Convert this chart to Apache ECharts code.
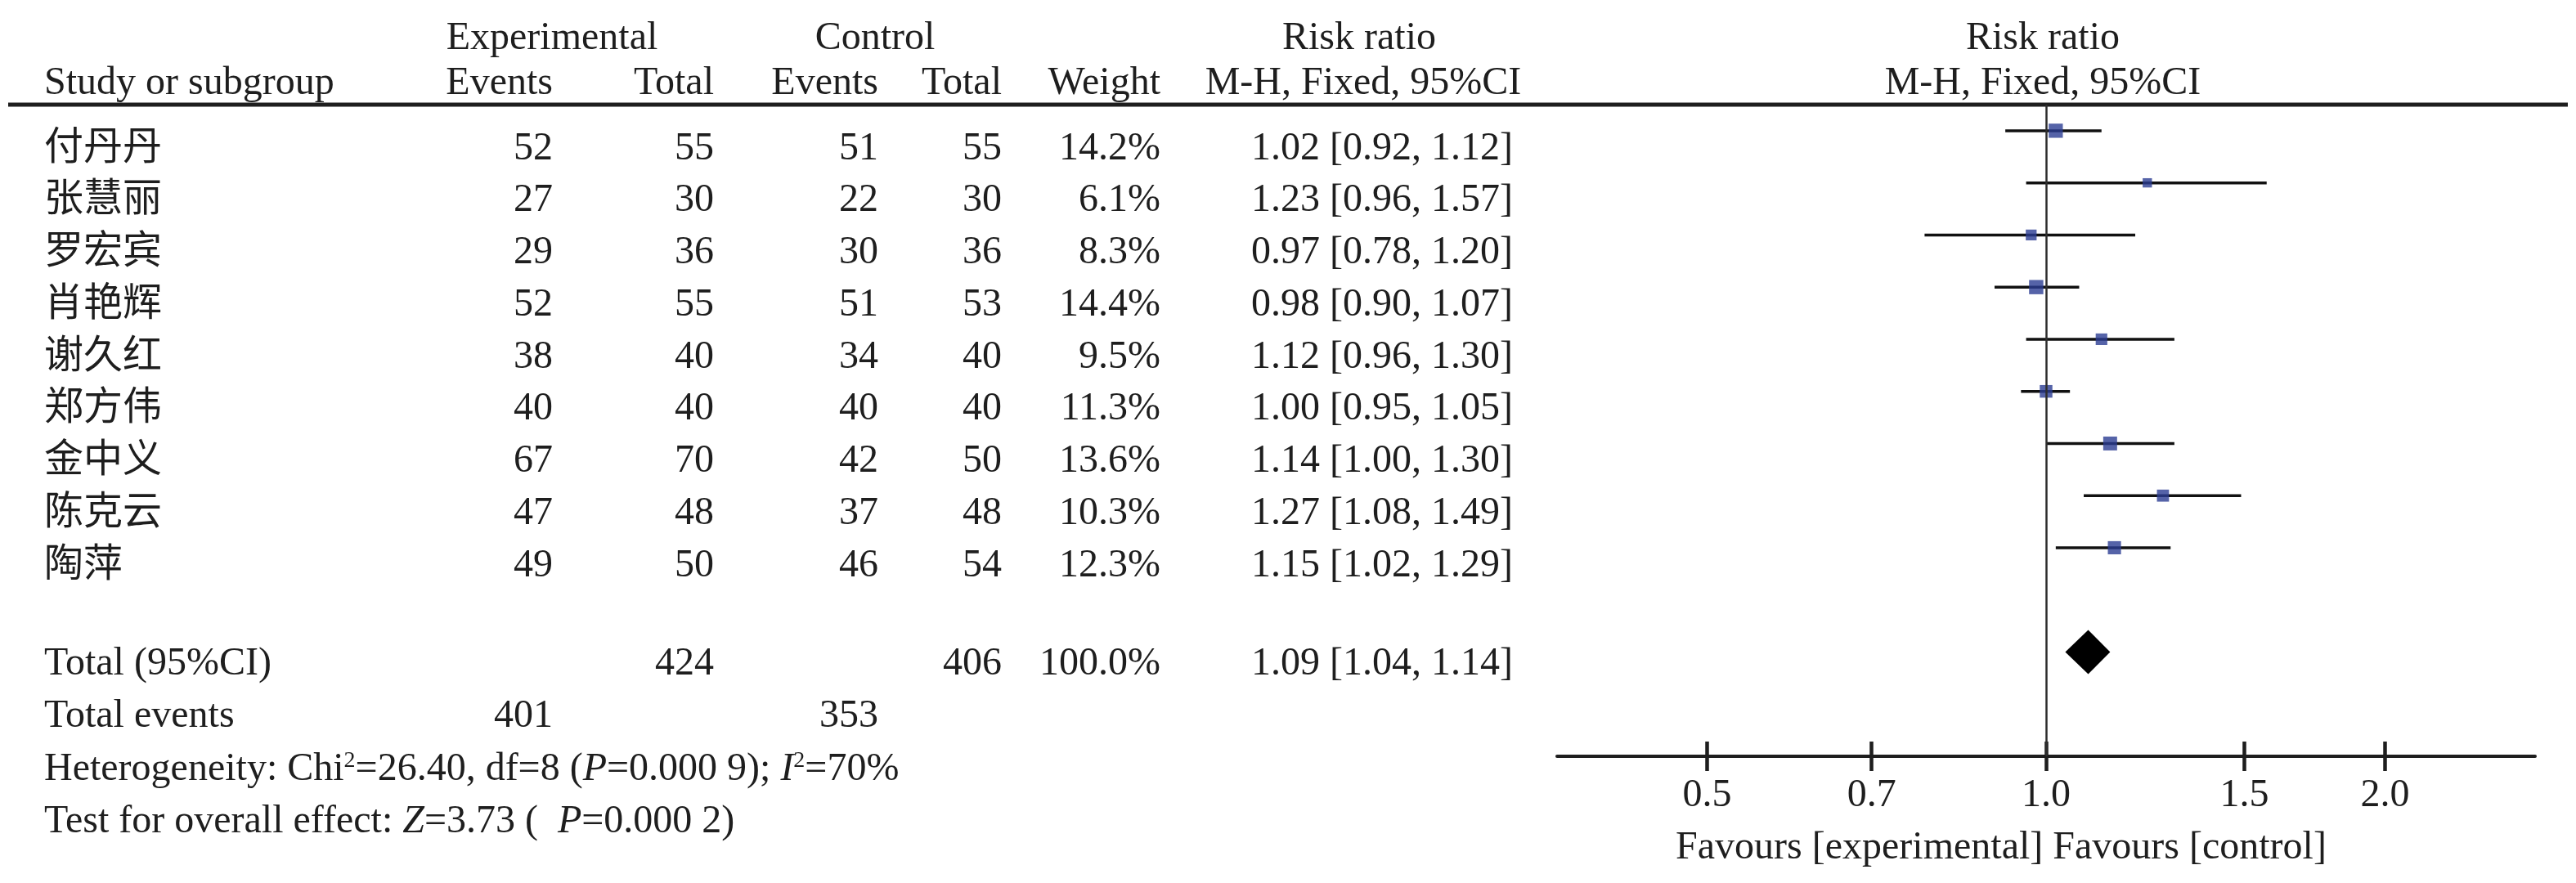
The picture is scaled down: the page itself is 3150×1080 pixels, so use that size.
<!DOCTYPE html>
<html>
<head>
<meta charset="utf-8">
<title>Forest plot</title>
<script src="https://cdn.jsdelivr.net/npm/echarts@6/dist/echarts.min.js"></script>
<style>
  html, body { margin: 0; padding: 0; background: #fff; }
  #main { width: 3150px; height: 1080px; }
</style>
</head>
<body>
<div id="main"></div>
<script>
// 数据
var studies = ['付丹丹', '张慧丽', '罗宏宾', '肖艳辉', '谢久红', '郑方伟', '金中义', '陈克云', '陶萍'];
var expEvents = [52, 27, 29, 52, 38, 40, 67, 47, 49];
var expTotal = [55, 30, 36, 55, 40, 40, 70, 48, 50];
var ctrlEvents = [51, 22, 30, 51, 34, 40, 42, 37, 46];
var ctrlTotal = [55, 30, 36, 53, 40, 40, 50, 48, 54];
var weights = [14.2, 6.1, 8.3, 14.4, 9.5, 11.3, 13.6, 10.3, 12.3];
var rr = [1.02, 1.23, 0.97, 0.98, 1.12, 1.00, 1.14, 1.27, 1.15];
var rrLow = [0.92, 0.96, 0.78, 0.90, 0.96, 0.95, 1.00, 1.08, 1.02];
var rrHigh = [1.12, 1.57, 1.20, 1.07, 1.30, 1.05, 1.30, 1.49, 1.29];
var totalN = [424, 406];
var totalEvents = [401, 353];
var totalWeight = 100.0;
var pooled = [1.09, 1.04, 1.14];   // RR, low, high
var tickLabels = [0.5, 0.7, 1.0, 1.5, 2.0];

(function () {
  var dom = document.getElementById('main');
  var myChart = echarts.init(dom, null, { renderer: 'canvas' });

  var FONT = "'Liberation Serif', 'Times New Roman', 'Noto Sans CJK SC', serif";
  var FS = 48;
  var INK = '#1e1e1e';

  // 表格列位置
  var col = { name: 54, expE: 676, expT: 873, ctlE: 1074, ctlT: 1225, wt: 1419, rr: 1850 };
  var rowY0 = 182, rowStep = 63.75;

  function txt(s, x, y, align, extra) {
    var style = {
      text: s, fill: INK, font: FS + 'px ' + FONT,
      textAlign: align || 'left', textVerticalAlign: 'middle'
    };
    if (extra) { for (var k in extra) style[k] = extra[k]; }
    return { type: 'text', x: x, y: y, silent: true, style: style };
  }
  function fmt2(v) { return v.toFixed(2); }
  function ci(r, l, h) { return fmt2(r) + ' [' + fmt2(l) + ', ' + fmt2(h) + ']'; }

  var graphics = [];
  // 表头
  graphics.push(txt('Experimental', 675, 47, 'center'));
  graphics.push(txt('Control', 1070, 47, 'center'));
  graphics.push(txt('Risk ratio', 1662, 47, 'center'));
  graphics.push(txt('Risk ratio', 2498, 47, 'center'));
  graphics.push(txt('Study or subgroup', col.name, 102, 'left'));
  graphics.push(txt('Events', col.expE, 102, 'right'));
  graphics.push(txt('Total', col.expT, 102, 'right'));
  graphics.push(txt('Events', col.ctlE, 102, 'right'));
  graphics.push(txt('Total', col.ctlT, 102, 'right'));
  graphics.push(txt('Weight', col.wt, 102, 'right'));
  graphics.push(txt('M-H, Fixed, 95%CI', 1667, 102, 'center'));
  graphics.push(txt('M-H, Fixed, 95%CI', 2498, 102, 'center'));
  graphics.push({
    type: 'line', silent: true,
    shape: { x1: 10, y1: 128, x2: 3140, y2: 128 },
    style: { stroke: INK, lineWidth: 5 }
  });

  // 各研究行
  for (var i = 0; i < studies.length; i++) {
    var y = rowY0 + rowStep * i;
    graphics.push(txt(studies[i], col.name, y, 'left'));
    graphics.push(txt(String(expEvents[i]), col.expE, y, 'right'));
    graphics.push(txt(String(expTotal[i]), col.expT, y, 'right'));
    graphics.push(txt(String(ctrlEvents[i]), col.ctlE, y, 'right'));
    graphics.push(txt(String(ctrlTotal[i]), col.ctlT, y, 'right'));
    graphics.push(txt(weights[i].toFixed(1) + '%', col.wt, y, 'right'));
    graphics.push(txt(ci(rr[i], rrLow[i], rrHigh[i]), col.rr, y, 'right'));
  }

  // 合计行
  graphics.push(txt('Total (95%CI)', col.name, 812, 'left'));
  graphics.push(txt(String(totalN[0]), col.expT, 812, 'right'));
  graphics.push(txt(String(totalN[1]), col.ctlT, 812, 'right'));
  graphics.push(txt(totalWeight.toFixed(1) + '%', col.wt, 812, 'right'));
  graphics.push(txt(ci(pooled[0], pooled[1], pooled[2]), col.rr, 812, 'right'));
  graphics.push(txt('Total events', col.name, 876, 'left'));
  graphics.push(txt(String(totalEvents[0]), col.expE, 876, 'right'));
  graphics.push(txt(String(totalEvents[1]), col.ctlE, 876, 'right'));

  var rich = {
    n: { fontSize: FS, fontFamily: FONT, fill: INK },
    it: { fontSize: FS, fontFamily: FONT, fontStyle: 'italic', fill: INK },
    sup: { fontSize: 28, fontFamily: FONT, fill: INK, verticalAlign: 'top', padding: [0, 0, 20, 0] }
  };
  graphics.push(txt('{n|Heterogeneity: Chi}{sup|2}{n|=26.40, df=8 (}{it|P}{n|=0.000 9); }{it|I}{sup|2}{n|=70%}',
    col.name, 941, 'left', { rich: rich }));
  graphics.push(txt('{n|Test for overall effect: }{it|Z}{n|=3.73 (  }{it|P}{n|=0.000 2)}',
    col.name, 1005, 'left', { rich: rich }));

  graphics.push(txt('Favours [experimental] Favours [control]', 2447, 1037, 'center'));

  // 森林图数据（对数尺度）
  var lineData = [], squareData = [];
  for (var j = 0; j < studies.length; j++) {
    lineData.push([Math.log(rrLow[j]), Math.log(rrHigh[j]), j]);
    squareData.push([Math.log(rr[j]), j, weights[j]]);
  }
  var pooledRow = studies.length + 1;
  var diamondData = [[Math.log(pooled[1]), Math.log(pooled[0]), Math.log(pooled[2]), pooledRow]];
  var tickValues = tickLabels.map(function (v) { return Math.log(v); });

  var option = {
    backgroundColor: '#fff',
    animation: false,
    grid: { left: 1904, right: 50, top: 128, bottom: 155, containLabel: false },
    xAxis: [{
      type: 'value', min: -1, max: 1, position: 'bottom',
      axisLine: { onZero: false, lineStyle: { color: INK, width: 4 } },
      axisTick: { show: true, length: 18, customValues: tickValues, lineStyle: { color: INK, width: 4.5 } },
      axisLabel: {
        show: true, customValues: tickValues, margin: 24,
        color: INK, fontSize: FS, fontFamily: FONT,
        formatter: function (v) { return Math.exp(v).toFixed(1); }
      },
      splitLine: { show: false }
    }, {
      type: 'value', min: -1, max: 1, position: 'bottom',
      axisLine: { show: false, onZero: false },
      axisTick: { show: true, inside: true, length: 18, customValues: tickValues, lineStyle: { color: INK, width: 4.5 } },
      axisLabel: { show: false },
      splitLine: { show: false }
    }],
    yAxis: {
      type: 'value', min: -0.5, max: 12, inverse: true, show: false
    },
    series: [{
      // 置信区间
      type: 'custom',
      xAxisIndex: 0,
      renderItem: function (params, api) {
        var p1 = api.coord([api.value(0), api.value(2)]);
        var p2 = api.coord([api.value(1), api.value(2)]);
        return {
          type: 'line',
          shape: { x1: p1[0], y1: p1[1], x2: p2[0], y2: p2[1] },
          style: { stroke: '#111', lineWidth: 3.5 }
        };
      },
      encode: { x: [0, 1], y: 2 },
      data: lineData,
      z: 2
    }, {
      // 权重方块
      type: 'scatter',
      xAxisIndex: 0,
      symbol: 'rect',
      symbolSize: function (d) { return 4.6 * Math.sqrt(d[2]); },
      itemStyle: { color: '#2a3c92' },
      data: squareData,
      z: 3,
      markLine: {
        silent: true, symbol: 'none',
        label: { show: false },
        lineStyle: { color: '#2e2e2e', width: 2.5, type: 'solid' },
        data: [{ xAxis: 0 }]
      }
    }, {
      // 合并效应菱形
      type: 'custom',
      xAxisIndex: 0,
      renderItem: function (params, api) {
        var row = api.value(3);
        var l = api.coord([api.value(0), row]);
        var c = api.coord([api.value(1), row]);
        var r = api.coord([api.value(2), row]);
        var h = 27;
        return {
          type: 'polygon',
          shape: { points: [[l[0], l[1]], [c[0], c[1] - h], [r[0], r[1]], [c[0], c[1] + h]] },
          style: { fill: '#000' }
        };
      },
      encode: { x: [0, 1, 2], y: 3 },
      data: diamondData,
      z: 3
    }],
    graphic: graphics
  };

  if (option && typeof option === 'object') {
    myChart.setOption(option);
  }
})();
</script>
</body>
</html>
